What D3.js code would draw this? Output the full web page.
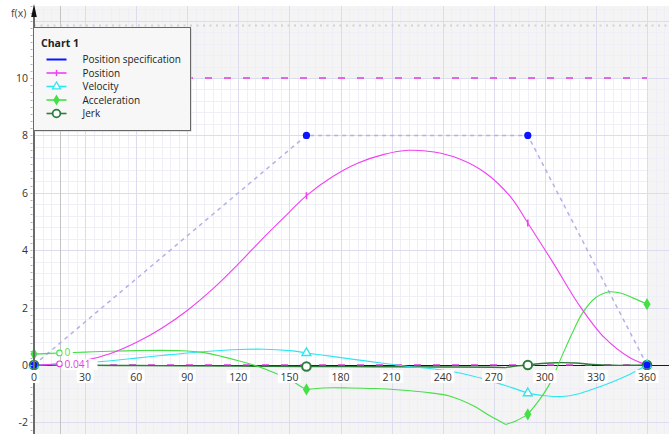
<!DOCTYPE html>
<html>
<head>
<meta charset="utf-8">
<script src="https://cdn.jsdelivr.net/npm/d3@7/dist/d3.min.js"></script>
<style>
  html, body { margin: 0; padding: 0; background: #fff; }
  svg { display: block; font-family: "Open Sans", "Noto Sans", sans-serif; }
</style>
</head>
<body>
<svg id="chart" width="669" height="434"></svg>
<script>
// section borders of the motion law (markers sit on them)
var sections = [0, 160, 290, 360];

// position specification (vertices)
var specPts = [[0, 0], [160, 8], [290, 8], [360, 0]];

// curves, [x, f(x)]
var positionPts = [[0, 0], [15, 0.041], [30, 0.16], [45, 0.4], [60, 0.78], [75, 1.28], [90, 1.9],
    [105, 2.65], [120, 3.52], [135, 4.45], [150, 5.33], [160, 5.9], [175, 6.55], [190, 7.03],
    [205, 7.33], [220, 7.48], [235, 7.42], [250, 7.18], [265, 6.7], [280, 5.85], [290, 4.95],
    [305, 3.55], [320, 2.1], [335, 0.95], [350, 0.25], [360, 0]];

var velocityPts = [[0, 0], [15, 0.03], [30, 0.07], [45, 0.15], [60, 0.24], [75, 0.33], [90, 0.42],
    [105, 0.49], [120, 0.54], [135, 0.55], [150, 0.5], [160, 0.42], [175, 0.3], [190, 0.18],
    [205, 0.06], [220, -0.05], [235, -0.14], [250, -0.28], [265, -0.5], [280, -0.78], [290, -0.98],
    [300, -1.07], [310, -1.1], [320, -1.0], [330, -0.8], [340, -0.58], [350, -0.32], [360, 0]];

var accelerationPts = [[0, 0.38], [15, 0.42], [30, 0.45], [45, 0.48], [60, 0.5], [75, 0.51],
    [90, 0.49], [100, 0.43], [110, 0.3], [120, 0.15], [129, 0], [140, -0.24], [150, -0.5],
    [156, -0.72], [160, -0.85], [170, -0.8], [185, -0.8], [200, -0.82], [215, -0.87], [230, -0.95],
    [244, -1.08], [258, -1.42], [268, -1.78], [277, -2.07], [283, -1.95], [290, -1.72], [297, -1.2],
    [303, -0.64], [309, 0.17], [316, 1.1], [322, 1.8], [330, 2.35], [338, 2.55], [345, 2.5],
    [352, 2.33], [360, 2.12]];

var jerkPts = [[0, 0], [15, 0], [60, -0.02], [120, -0.04], [160, -0.05], [200, -0.06], [240, -0.07],
    [270, -0.08], [277, -0.09], [284, -0.03], [290, 0], [298, 0.05], [307, 0.08], [318, 0.07],
    [328, 0.02], [340, -0.01], [350, -0.01], [360, 0]];

// tick labels
var xTicks = [0, 30, 60, 90, 120, 150, 180, 210, 240, 270, 300, 330, 360];
var yTicks = [-2, 0, 2, 4, 6, 8, 10];

// limits and cursor
var posLimits = [0, 10];
var upperMark = 11.83;
var cursorX = 15;
var cursorReadouts = [
    { value: 0.42, text: '0', color: '#4fe24f', dy: -1 },
    { value: 0.041, text: '0.041', color: '#e53ee5', dy: 0.8 }
];

var legendNames = ['Position specification', 'Position', 'Velocity', 'Acceleration', 'Jerk'];

var W = 669, H = 434, plotTop = 6, plotLeft = 34;

var svg = d3.select('#chart');

var x = d3.scaleLinear().domain([0, 360]).range([34, 647]);
var y = d3.scaleLinear().domain([0, 10]).range([365, 78]);

var xEnd = x.invert(W), yTopVal = y.invert(plotTop);

/*
 * BACKGROUND:
 * grey outside the working range, white inside it
 */
svg.append('rect')
    .attr('x', plotLeft).attr('y', plotTop)
    .attr('width', W - plotLeft).attr('height', H - plotTop)
    .attr('fill', '#f4f4f5');

svg.append('rect')
    .attr('x', x(0)).attr('y', y(posLimits[1]))
    .attr('width', x(360) - x(0)).attr('height', y(posLimits[0]) - y(posLimits[1]))
    .attr('fill', '#ffffff');

// grid: minor every 5 / 0.4, major every 30 / 2
var grid = svg.append('g').attr('shape-rendering', 'crispEdges');

grid.selectAll('.vminor').data(d3.range(0, xEnd, 5)).enter().append('line')
    .attr('x1', function (d) { return Math.round(x(d)) + 0.5; })
    .attr('x2', function (d) { return Math.round(x(d)) + 0.5; })
    .attr('y1', plotTop).attr('y2', H)
    .attr('stroke', '#efeff7');

grid.selectAll('.hminor').data(d3.range(-2.4, yTopVal, 0.4)).enter().append('line')
    .attr('y1', function (d) { return Math.round(y(d)) + 0.5; })
    .attr('y2', function (d) { return Math.round(y(d)) + 0.5; })
    .attr('x1', plotLeft).attr('x2', W)
    .attr('stroke', '#efeff7');

grid.selectAll('.vmajor').data(d3.range(0, xEnd, 30)).enter().append('line')
    .attr('x1', function (d) { return Math.round(x(d)) + 0.5; })
    .attr('x2', function (d) { return Math.round(x(d)) + 0.5; })
    .attr('y1', plotTop).attr('y2', H)
    .attr('stroke', '#dddcef');

grid.selectAll('.hmajor').data(d3.range(-2, yTopVal, 2)).enter().append('line')
    .attr('y1', function (d) { return Math.round(y(d)) + 0.5; })
    .attr('y2', function (d) { return Math.round(y(d)) + 0.5; })
    .attr('x1', plotLeft).attr('x2', W)
    .attr('stroke', '#dddcef');

// cursor line
svg.append('line')
    .attr('x1', Math.round(x(cursorX)) + 0.5).attr('x2', Math.round(x(cursorX)) + 0.5)
    .attr('y1', plotTop).attr('y2', H)
    .attr('stroke', '#c4c4c8');

// upper grey dotted mark
svg.append('line')
    .attr('x1', plotLeft).attr('x2', W)
    .attr('y1', y(upperMark)).attr('y2', y(upperMark))
    .attr('stroke', '#d2d2d2').attr('stroke-width', 2)
    .attr('stroke-dasharray', '2,4.5');

// x axis
svg.append('line')
    .attr('x1', plotLeft).attr('x2', W)
    .attr('y1', y(0) + 0.5).attr('y2', y(0) + 0.5)
    .attr('stroke', '#1a1a1a');

// position limits
svg.selectAll('.limit').data(posLimits).enter().append('line')
    .attr('x1', x(0)).attr('x2', x(360))
    .attr('y1', function (d) { return y(d); })
    .attr('y2', function (d) { return y(d); })
    .attr('stroke', '#e23ae2').attr('stroke-width', 1.6)
    .attr('stroke-dasharray', '7,12');

// position specification: dashed polyline
svg.append('path')
    .datum(specPts)
    .attr('d', d3.line().x(function (d) { return x(d[0]); }).y(function (d) { return y(d[1]); }))
    .attr('fill', 'none')
    .attr('stroke', '#b2b2e6').attr('stroke-width', 1.5)
    .attr('stroke-dasharray', '4,4');

/*
 * CURVES
 */
var series = [
    { name: 'jerk', pts: jerkPts, color: '#2e7d3c', width: 1.4, breaks: [0, 160, 277, 290, 360] },
    { name: 'velocity', pts: velocityPts, color: '#2ee6f0', width: 1.1, breaks: sections },
    { name: 'acceleration', pts: accelerationPts, color: '#45e045', width: 1.1, breaks: [0, 160, 277, 290, 360] },
    { name: 'position', pts: positionPts, color: '#f040f0', width: 1.1, breaks: [0, 360] }
];

var curve = d3.line()
    .x(function (d) { return x(d[0]); })
    .y(function (d) { return y(d[1]); })
    .curve(d3.curveCatmullRom.alpha(0.5));

function split(pts, breaks) {
    var parts = [];
    for (var i = 0; i < breaks.length - 1; i++) {
        parts.push(pts.filter(function (p) { return p[0] >= breaks[i] && p[0] <= breaks[i + 1]; }));
    }
    return parts;
}

series.forEach(function (s) {
    svg.append('g').selectAll('path')
        .data(split(s.pts, s.breaks))
        .enter().append('path')
        .attr('d', curve)
        .attr('fill', 'none')
        .attr('stroke', s.color)
        .attr('stroke-width', s.width);
});

function valueAt(pts, xv) {
    return pts.filter(function (p) { return p[0] === xv; })[0][1];
}

function drawMarker(g, kind, color) {
    if (kind === 'tick') {
        g.append('line').attr('x1', 0).attr('x2', 0).attr('y1', -3.5).attr('y2', 3.5)
            .attr('stroke', color).attr('stroke-width', 1.6);
    } else if (kind === 'triangle') {
        g.append('path').attr('d', d3.symbol().type(d3.symbolTriangle).size(34)())
            .attr('fill', '#fff').attr('stroke', color).attr('stroke-width', 1.4);
    } else if (kind === 'diamond') {
        g.append('path').attr('d', d3.symbol().type(d3.symbolDiamond).size(44)())
            .attr('fill', color);
    } else if (kind === 'circle') {
        g.append('circle').attr('r', 4.3)
            .attr('fill', '#fff').attr('stroke', color).attr('stroke-width', 2);
    } else if (kind === 'dot') {
        g.append('circle').attr('r', 3.6).attr('fill', color);
    }
}

var markerKinds = { position: 'tick', velocity: 'triangle', acceleration: 'diamond', jerk: 'circle' };

// markers at section borders
series.forEach(function (s) {
    sections.forEach(function (sx) {
        var g = svg.append('g')
            .attr('transform', 'translate(' + x(sx) + ',' + y(valueAt(s.pts, sx)) + ')');
        drawMarker(g, markerKinds[s.name], s.color);
    });
});

specPts.forEach(function (p) {
    drawMarker(svg.append('g').attr('transform', 'translate(' + x(p[0]) + ',' + y(p[1]) + ')'), 'dot', '#0a14ff');
});

/*
 * Y AXIS
 */
svg.append('g').selectAll('line')
    .data(d3.range(-2.5, yTopVal, 0.25))
    .enter().append('line')
    .attr('x1', 30.5).attr('x2', 32.5)
    .attr('y1', function (d) { return Math.round(y(d)) + 0.5; })
    .attr('y2', function (d) { return Math.round(y(d)) + 0.5; })
    .attr('stroke', '#b0b0b0');

svg.append('line')
    .attr('x1', plotLeft).attr('x2', plotLeft)
    .attr('y1', 12).attr('y2', H)
    .attr('stroke', '#6b6b6b').attr('stroke-width', 2);

svg.append('path')
    .attr('d', 'M' + plotLeft + ',4 L' + (plotLeft - 2.8) + ',17 L' + (plotLeft + 2.8) + ',17 Z')
    .attr('fill', '#111');

svg.append('text')
    .attr('x', 11).attr('y', 17)
    .attr('font-size', 10.5).attr('fill', '#444')
    .text('f(x)');

svg.append('g').selectAll('text')
    .data(yTicks).enter().append('text')
    .attr('x', 28)
    .attr('y', function (d) { return y(d) + 4; })
    .attr('text-anchor', 'end')
    .attr('font-size', 10.5).attr('fill', '#333')
    .text(function (d) { return d; });

// x tick labels on white boxes
var xl = svg.append('g').selectAll('g')
    .data(xTicks).enter().append('g')
    .attr('transform', function (d) { return 'translate(' + x(d) + ',' + (y(0) + 12) + ')'; });

xl.append('rect')
    .attr('x', function (d) { return -String(d).length * 3.2 - 2; })
    .attr('y', -7)
    .attr('width', function (d) { return String(d).length * 6.4 + 4; })
    .attr('height', 13)
    .attr('fill', '#fff');

xl.append('text')
    .attr('y', 4)
    .attr('text-anchor', 'middle')
    .attr('font-size', 10.5).attr('fill', '#333')
    .text(function (d) { return d; });

/*
 * CURSOR READOUT
 */
cursorReadouts.forEach(function (c) {
    var cy = y(c.value);
    svg.append('circle')
        .attr('cx', x(cursorX)).attr('cy', cy).attr('r', 2.8)
        .attr('fill', '#fff').attr('stroke', c.color).attr('stroke-width', 1.2);
    svg.append('rect')
        .attr('x', x(cursorX) + 3).attr('y', cy - 5.5 + c.dy)
        .attr('width', c.text.length * 6.2 + 4).attr('height', 11)
        .attr('fill', '#fff');
    svg.append('text')
        .attr('x', x(cursorX) + 5).attr('y', cy + 3.6 + c.dy)
        .attr('font-size', 10.2).attr('fill', c.color)
        .text(c.text);
});

/*
 * LEGEND
 */
var legend = svg.append('g').attr('transform', 'translate(33.5,27.5)');

legend.append('rect')
    .attr('x', 1).attr('y', 1).attr('width', 157).attr('height', 103)
    .attr('fill', '#c8c8c8');
legend.append('rect')
    .attr('width', 157).attr('height', 103)
    .attr('fill', '#f7f7f7').attr('stroke', '#686868');

legend.append('text')
    .attr('x', 7.5).attr('y', 19)
    .attr('font-size', 10.5).attr('font-weight', 'bold').attr('fill', '#222')
    .text('Chart 1');

var legendColors = ['#0a14ff', '#f040f0', '#2ee6f0', '#45e045', '#2e7d3c'];
var legendKinds = [null, 'tick', 'triangle', 'diamond', 'circle'];

legendNames.forEach(function (name, i) {
    var row = legend.append('g').attr('transform', 'translate(0,' + (32 + i * 13.5) + ')');
    row.append('line')
        .attr('x1', 13).attr('x2', 33)
        .attr('stroke', legendColors[i]).attr('stroke-width', i === 0 ? 2 : 1.6);
    if (legendKinds[i]) {
        var m = row.append('g').attr('transform', 'translate(23,0) scale(0.9)');
        drawMarker(m, legendKinds[i], legendColors[i]);
    }
    row.append('text')
        .attr('x', 49).attr('y', 3.5)
        .attr('font-size', 10).attr('fill', '#222')
        .text(name);
});
</script>
</body>
</html>
